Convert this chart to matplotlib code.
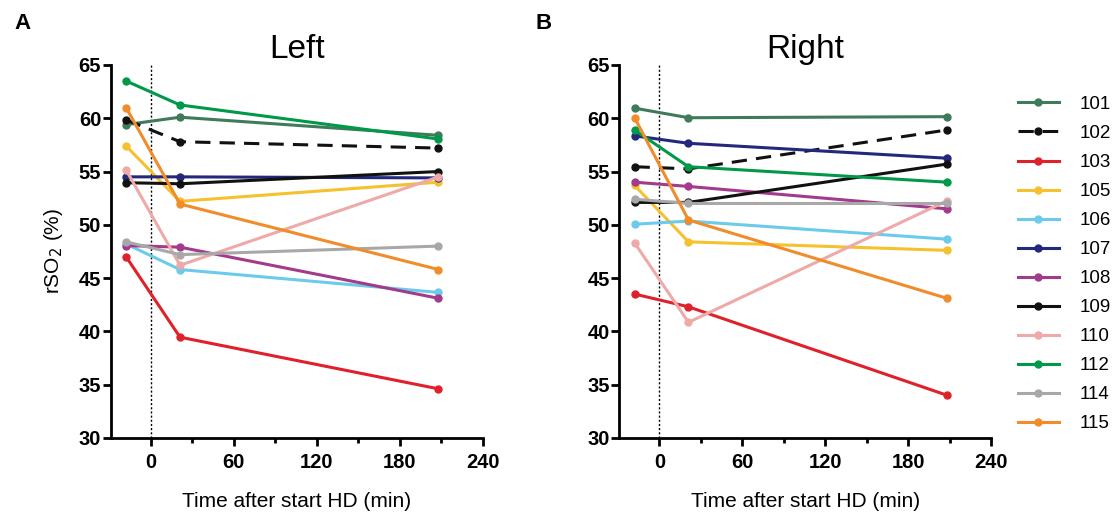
import matplotlib
matplotlib.use("Agg")
import matplotlib.pyplot as plt
from matplotlib.ticker import MultipleLocator

plt.rcParams['font.family'] = ['Liberation Sans', 'DejaVu Sans']

# time points (min after start of HD)
times = [-18, 21, 208]

patients = ['101', '102', '103', '105', '106', '107', '108', '109', '110', '112', '114', '115']
colors = ['#3f7a5a', '#111111', '#e0202a', '#f5c12e', '#6ccbea', '#23287c',
          '#a23b8c', '#111111', '#eea9a9', '#00994a', '#a8a8a8', '#f08c2a']
styles = ['-', '--', '-', '-', '-', '-', '-', '-', '-', '-', '-', '-']

# rSO2 values, left side
left_101 = [59.4, 60.1, 58.4]
left_102 = [59.85, 57.8, 57.2]
left_103 = [47.0, 39.45, 34.6]
left_105 = [57.4, 52.2, 54.0]
left_106 = [48.2, 45.8, 43.65]
left_107 = [54.5, 54.5, 54.4]
left_108 = [48.05, 47.9, 43.1]
left_109 = [53.95, 53.85, 55.0]
left_110 = [55.15, 46.2, 54.5]
left_112 = [63.5, 61.25, 58.05]
left_114 = [48.4, 47.2, 48.0]
left_115 = [61.0, 51.95, 45.8]

# rSO2 values, right side
right_101 = [60.95, 60.05, 60.15]
right_102 = [55.45, 55.25, 58.9]
right_103 = [43.5, 42.3, 34.0]
right_105 = [53.7, 48.4, 47.6]
right_106 = [50.05, 50.35, 48.65]
right_107 = [58.35, 57.65, 56.25]
right_108 = [54.0, 53.6, 51.5]
right_109 = [52.1, 52.1, 55.7]
right_110 = [48.3, 40.85, 52.25]
right_112 = [58.9, 55.45, 54.0]
right_114 = [52.4, 52.0, 52.0]
right_115 = [60.05, 50.45, 43.1]

left_data = [left_101, left_102, left_103, left_105, left_106, left_107,
             left_108, left_109, left_110, left_112, left_114, left_115]
right_data = [right_101, right_102, right_103, right_105, right_106, right_107,
              right_108, right_109, right_110, right_112, right_114, right_115]

fig = plt.figure(figsize=(11.2, 5.2), dpi=100)
ax_l = fig.add_axes([0.099, 0.158, 0.332, 0.717])
ax_r = fig.add_axes([0.553, 0.158, 0.332, 0.717])


def draw_panel(ax, data, title):
    for i, vals in enumerate(data):
        ax.plot(times, vals, color=colors[i], linestyle=styles[i], lw=2.2,
                marker='o', markersize=5, label=patients[i],
                dashes=(5, 3) if styles[i] == '--' else (None, None))
    ax.axvline(0, color='black', lw=1, linestyle=(0, (1.5, 1.5)), zorder=0)
    ax.set_xlim(-29, 240)
    ax.set_ylim(30, 65)
    ax.xaxis.set_major_locator(MultipleLocator(60))
    ax.xaxis.set_minor_locator(MultipleLocator(30))
    ax.yaxis.set_major_locator(MultipleLocator(5))
    for s in ['top', 'right']:
        ax.spines[s].set_visible(False)
    for s in ['left', 'bottom']:
        ax.spines[s].set_linewidth(2)
    ax.tick_params(which='major', length=6, width=2, labelsize=14.5)
    ax.tick_params(axis='x', which='major', pad=5)
    ax.tick_params(axis='y', which='major', pad=1)
    ax.tick_params(which='minor', length=3.5, width=2)
    ax.set_xticks([60 * k for k in range(5)])
    for lab in ax.get_xticklabels() + ax.get_yticklabels():
        lab.set_fontweight('bold')
    ax.set_xlabel('Time after start HD (min)', fontsize=15, labelpad=14)
    ax.set_title(title, fontsize=24, pad=4)


draw_panel(ax_l, left_data, 'Left')
draw_panel(ax_r, right_data, 'Right')
ax_l.set_ylabel('rSO$_2$ (%)', fontsize=15, labelpad=10)

fig.text(0.013, 0.945, 'A', fontsize=16, fontweight='bold')
fig.text(0.478, 0.945, 'B', fontsize=16, fontweight='bold')

handles, labels = ax_r.get_legend_handles_labels()
fig.legend(handles, labels, loc='upper left', bbox_to_anchor=(0.902, 0.830),
           frameon=False, fontsize=13.5, handlelength=2.2, labelspacing=0.635,
           handletextpad=1.1, borderaxespad=0)

fig.savefig('out.png', dpi=100)
